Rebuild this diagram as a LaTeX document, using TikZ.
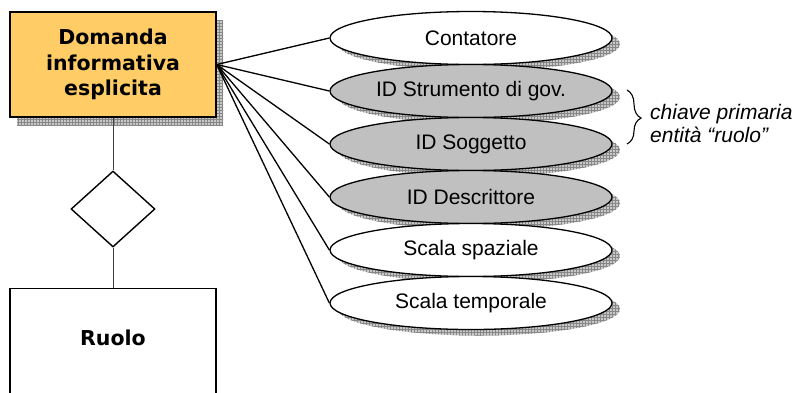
\documentclass[tikz,border=0pt]{standalone}
\usepackage{fontspec}
\setmainfont{Liberation Sans}
\newfontfamily\boxfont{DejaVu Sans}
\usetikzlibrary{shapes.geometric,shadows,patterns,decorations.pathreplacing}

\definecolor{entityfill}{RGB}{255,204,102}
\definecolor{keyfill}{RGB}{192,192,192}
\definecolor{shadowlight}{RGB}{200,200,200}
\definecolor{shadowdark}{RGB}{135,135,135}

\tikzset{
  hatchshadow/.style={fill=shadowlight, postaction={pattern=grid, pattern color=shadowdark}},
  entity/.style={draw=black, line width=1.4pt, rectangle, inner sep=0pt,
    minimum width=206pt, font=\boxfont\bfseries\fontsize{20.5}{25.5}\selectfont, align=center},
  attr/.style={draw=black, line width=1.3pt, ellipse, inner sep=0pt,
    minimum width=282pt, minimum height=53pt, fill=white,
    font=\fontsize{21}{25}\selectfont,
    drop shadow={shadow xshift=8pt, shadow yshift=-6pt, hatchshadow, opacity=1}},
  keyattr/.style={attr, fill=keyfill},
  link/.style={draw=black, line width=1.3pt},
  relink/.style={draw=black!75, line width=1pt},
  relation/.style={draw=black, line width=1.4pt, diamond, inner sep=0pt,
    minimum width=84pt, minimum height=76pt, fill=white},
  note/.style={font=\itshape\fontsize{21}{23}\selectfont, align=left, anchor=west, inner sep=0pt}
}

\begin{document}
\begin{tikzpicture}[x=1pt, y=-1pt]
  \useasboundingbox (0,0) rectangle (799,392);
  \clip (0,0) rectangle (799,392);

  % entity "Domanda informativa esplicita" with its shadow
  \path[hatchshadow] (17,20) rectangle (223,125);
  \node[entity, fill=entityfill, minimum height=105pt] (dom) at (113,64.5)
    {Domanda\\informativa\\esplicita};

  % relationship and entity "Ruolo"
  \node[relation] (rel) at (113,209) {};
  \node[entity, fill=white, minimum height=130pt, anchor=north] (ruolo) at (113,288) {};
  \node[font=\boxfont\bfseries\fontsize{20.5}{25}\selectfont] (ruolotext) at (113,338) {Ruolo};
  \draw[relink] (dom.south) -- (rel.north);
  \draw[relink] (rel.south) -- (ruolo.north);

  % attributes
  \node[attr]    (a1) at (471,38)  {Contatore};
  \node[keyattr] (a2) at (471,91)  {ID Strumento di gov.};
  \node[keyattr] (a3) at (471,144) {ID Soggetto};
  \node[keyattr] (a4) at (471,197) {ID Descrittore};
  \node[attr]    (a5) at (471,250) {Scala spaziale};
  \node[attr]    (a6) at (471,303) {Scala temporale};

  \foreach \a in {a1,a2,a3,a4,a5,a6}
    \draw[link] (dom.east) -- (\a.west);

  % primary key note
  \coordinate (btop) at (627,90);
  \coordinate (bbot) at (627,144);
  \draw[line width=1.1pt, decorate, decoration={brace, amplitude=14pt, aspect=0.52}] (btop) -- (bbot);
  \node[note] (keynote) at (650,123) {chiave primaria\\entità “ruolo”};
\end{tikzpicture}
\end{document}
